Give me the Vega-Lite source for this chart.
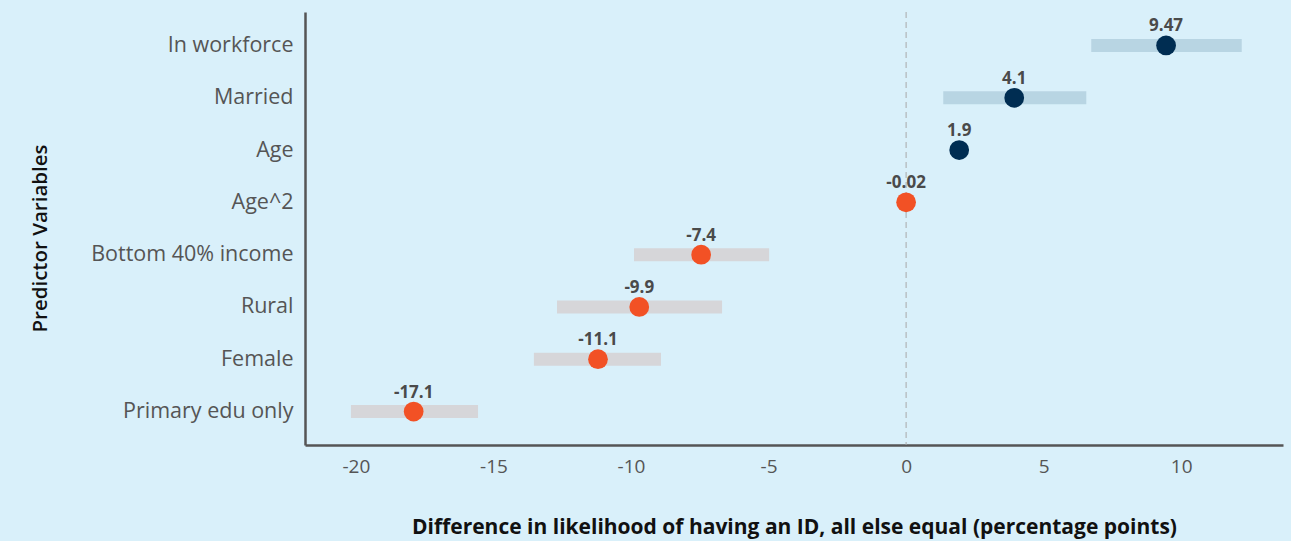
{
  "$schema": "https://vega.github.io/schema/vega-lite/v6.json",
  "width": 978,
  "height": 433,
  "autosize": {"type": "none"},
  "padding": {"left": 305, "top": 12, "right": 8, "bottom": 96},
  "background": "#d9f0fa",
  "config": {"view": {"stroke": null}, "font": "Open Sans"},
  "data": {"values": [
    {"var": "In workforce", "est": 9.45, "lo": 6.73, "hi": 12.2, "label": "9.47", "group": "pos"},
    {"var": "Married", "est": 3.93, "lo": 1.35, "hi": 6.55, "label": "4.1", "group": "pos"},
    {"var": "Age", "est": 1.93, "lo": null, "hi": null, "label": "1.9", "group": "pos"},
    {"var": "Age^2", "est": 0.0, "lo": null, "hi": null, "label": "-0.02", "group": "neg"},
    {"var": "Bottom 40% income", "est": -7.45, "lo": -9.89, "hi": -4.98, "label": "-7.4", "group": "neg"},
    {"var": "Rural", "est": -9.7, "lo": -12.69, "hi": -6.69, "label": "-9.9", "group": "neg"},
    {"var": "Female", "est": -11.2, "lo": -13.53, "hi": -8.91, "label": "-11.1", "group": "neg"},
    {"var": "Primary edu only", "est": -17.9, "lo": -20.18, "hi": -15.56, "label": "-17.1", "group": "neg"}
  ]},
  "encoding": {
    "y": {
      "field": "var", "type": "nominal",
      "sort": ["In workforce", "Married", "Age", "Age^2", "Bottom 40% income", "Rural", "Female", "Primary edu only"],
      "scale": {"type": "point", "padding": 0.64},
      "axis": {
        "title": "Predictor Variables", "titleFont": "Open Sans", "titleFontSize": 20.5, "titleFontWeight": 600,
        "titleColor": "#111111", "titleX": -265, "titleY": 226, "titleAngle": 270, "titleAlign": "center", "titleBaseline": "middle",
        "labelFont": "Open Sans", "labelFontSize": 21.5, "labelColor": "#555555", "labelPadding": 12, "labelLimit": 300,
        "ticks": false, "domainColor": "#555555", "domainWidth": 2.5, "grid": false
      }
    }
  },
  "layer": [
    {
      "mark": {"type": "rule", "strokeDash": [6, 4], "color": "#a8a8a8", "strokeWidth": 1},
      "data": {"values": [{"zero": 0}]},
      "encoding": {"x": {"field": "zero", "type": "quantitative", "scale": {"domain": [-21.85, 13.7], "nice": false, "zero": false}}, "y": null}
    },
    {
      "mark": {"type": "bar", "height": 13},
      "encoding": {
        "x": {"field": "lo", "type": "quantitative", "scale": {"domain": [-21.85, 13.7], "nice": false, "zero": false},
          "axis": {
            "title": "Difference in likelihood of having an ID, all else equal (percentage points)",
            "titleFont": "Open Sans", "titleFontSize": 21, "titleFontWeight": "bold", "titleColor": "#111111", "titlePadding": 40,
            "values": [-20, -15, -10, -5, 0, 5, 10],
            "labelExpr": "replace(datum.label, '\u2212', '-')",
            "labelFont": "Open Sans", "labelFontSize": 19, "labelColor": "#555555", "labelPadding": 12,
            "ticks": false, "domainColor": "#555555", "domainWidth": 2.5, "grid": false
          }},
        "x2": {"field": "hi"},
        "color": {"field": "group", "type": "nominal", "scale": {"domain": ["pos", "neg"], "range": ["#b8d5e3", "#d6d6d9"]}, "legend": null}
      }
    },
    {
      "mark": {"type": "circle", "size": 390, "opacity": 1},
      "encoding": {
        "x": {"field": "est", "type": "quantitative"},
        "color": {"field": "group", "type": "nominal", "scale": {"domain": ["pos", "neg"], "range": ["#002d52", "#f25125"]}, "legend": null}
      }
    },
    {
      "mark": {"type": "text", "dy": -19, "fontSize": 17, "fontWeight": "bold", "color": "#4a4a4a", "font": "Open Sans"},
      "encoding": {
        "x": {"field": "est", "type": "quantitative"},
        "text": {"field": "label"}
      }
    }
  ],
  "resolve": {"scale": {"color": "independent"}}
}
